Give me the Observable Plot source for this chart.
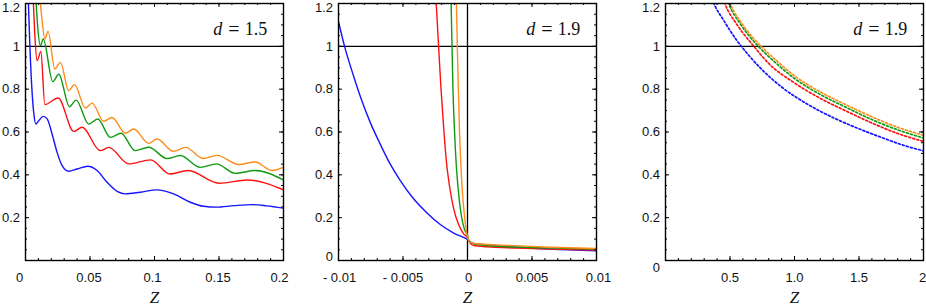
<!DOCTYPE html>
<html><head><meta charset="utf-8">
<script src="https://cdn.jsdelivr.net/npm/d3@7"></script>
<script src="https://cdn.jsdelivr.net/npm/@observablehq/plot@0.6"></script>
<style>
html,body{margin:0;padding:0;background:#fff;}
#wrap{position:relative;width:926px;height:306px;overflow:hidden;background:#fff;}
#wrap svg{position:absolute;top:0;}
</style></head><body><div id="wrap"></div>
<script>
// ---------- data ----------
const seriesColors = ["#1414ff", "#ff1010", "#109a10", "#ff8c1a"]; // blue, red, green, orange
const dValues = ["1.5", "1.9", "1.9"];
const axisTitle = "Z";

// panel 1 (d = 1.5)
const p1Blue = [[0.0021,1.228],[0.0034,1.0],[0.0052,0.777],[0.0065,0.684],[0.008,0.637],[0.0103,0.653],[0.0137,0.673],[0.0168,0.661],[0.0206,0.591],[0.0245,0.505],[0.0284,0.443],[0.0335,0.417],[0.04,0.427],[0.0483,0.44],[0.0555,0.42],[0.0632,0.365],[0.071,0.323],[0.0774,0.311],[0.089,0.319],[0.102,0.33],[0.1148,0.311],[0.1277,0.272],[0.138,0.253],[0.148,0.249],[0.1613,0.256],[0.1755,0.261],[0.187,0.255],[0.2,0.244]];
const p1Red = [[0.0059,1.228],[0.0072,1.057],[0.009,0.933],[0.0119,0.976],[0.015,0.728],[0.0253,0.759],[0.0374,0.603],[0.0439,0.622],[0.058,0.513],[0.0645,0.528],[0.08,0.451],[0.097,0.47],[0.112,0.404],[0.126,0.42],[0.15,0.361],[0.172,0.376],[0.2,0.33]];
const p1Green = [[0.008,1.228],[0.0095,1.088],[0.0116,1.003],[0.0137,1.034],[0.0212,0.835],[0.0258,0.87],[0.0341,0.718],[0.0392,0.749],[0.049,0.637],[0.056,0.661],[0.0658,0.575],[0.074,0.594],[0.085,0.513],[0.0955,0.529],[0.1097,0.476],[0.12,0.49],[0.1355,0.435],[0.148,0.451],[0.1626,0.407],[0.178,0.42],[0.2,0.376]];
const p1Orange = [[0.0111,1.228],[0.0129,1.119],[0.015,1.034],[0.0175,1.07],[0.0227,0.894],[0.0271,0.925],[0.0335,0.793],[0.0379,0.821],[0.0465,0.712],[0.0516,0.735],[0.0606,0.65],[0.0671,0.668],[0.0774,0.594],[0.0839,0.614],[0.0955,0.547],[0.1019,0.567],[0.1148,0.51],[0.1239,0.528],[0.138,0.476],[0.1484,0.491],[0.1652,0.448],[0.1781,0.46],[0.191,0.42],[0.2,0.435]];

// panel 2 (d = 1.9, near zero)
const p2Blue = [[-0.01,1.115],[-0.00953,1.0],[-0.00884,0.863],[-0.00819,0.746],[-0.00754,0.645],[-0.00677,0.544],[-0.006,0.451],[-0.00521,0.373],[-0.00418,0.288],[-0.00314,0.222],[-0.00211,0.168],[-0.00107,0.128],[0,0.098],[0.00035,0.081],[0.0015,0.073],[0.00384,0.062],[0.00643,0.053],[0.01,0.045]];
const p2Red = [[-0.00245,1.228],[-0.00224,1.0],[-0.00206,0.808],[-0.00185,0.622],[-0.00164,0.466],[-0.00138,0.342],[-0.00107,0.241],[-0.00069,0.168],[-0.0003,0.124],[0,0.106],[0.0001,0.09],[0.00048,0.07],[0.0015,0.064],[0.0038,0.058],[0.0064,0.053],[0.01,0.049]];
const p2Green = [[-0.00128,1.228],[-0.0012,1.0],[-0.00113,0.808],[-0.00102,0.622],[-0.00089,0.466],[-0.00071,0.326],[-0.0005,0.218],[-0.00025,0.148],[0,0.117],[0.00012,0.09],[0.00048,0.078],[0.0015,0.07],[0.0038,0.063],[0.0064,0.058],[0.01,0.054]];
const p2Orange = [[-0.00087,1.228],[-0.00079,1.0],[-0.00071,0.808],[-0.00063,0.622],[-0.00053,0.466],[-0.0004,0.326],[-0.00025,0.218],[-0.00009,0.14],[0.00001,0.109],[0.00017,0.085],[0.00074,0.078],[0.00255,0.072],[0.0064,0.062],[0.01,0.056]];

// panel 3 (d = 1.9, dashed)
const p3Blue = [[0.36,1.222],[0.375,1.2],[0.45,1.122],[0.55,1.03],[0.65,0.955],[0.75,0.89],[0.9,0.81],[1.1,0.73],[1.3,0.667],[1.5,0.615],[1.7,0.569],[1.85,0.537],[2.0,0.512]];
const p3Red = [[0.445,1.225],[0.46,1.2],[0.55,1.105],[0.685,1.0],[0.8,0.92],[1.0,0.829],[1.2,0.757],[1.4,0.698],[1.6,0.642],[1.8,0.593],[2.0,0.556]];
const p3Green = [[0.475,1.225],[0.49,1.2],[0.58,1.105],[0.72,1.0],[0.85,0.925],[1.0,0.85],[1.2,0.775],[1.4,0.715],[1.6,0.658],[1.8,0.61],[2.0,0.572]];
const p3Orange = [[0.488,1.225],[0.503,1.2],[0.6,1.1],[0.741,1.0],[0.87,0.928],[1.0,0.862],[1.2,0.787],[1.4,0.727],[1.6,0.671],[1.8,0.622],[2.0,0.585]];

// tick values and labels
const p1XTicks = [0, 0.05, 0.1, 0.15, 0.2];
const p1XLabels = ["0", "0.05", "0.1", "0.15", "0.2"];
const p2XTicks = [-0.01, -0.005, 0, 0.005, 0.01];
const p2XLabels = ["- 0.01", "- 0.005", "0", "0.005", "0.01"];
const p3XTicks = [0.5, 1, 1.5, 2];
const p3XLabels = ["0.5", "1.0", "1.5", "2"];
const yTicksAll = [0, 0.2, 0.4, 0.6, 0.8, 1, 1.2];
const yLabelsAll = ["0", "0.2", "0.4", "0.6", "0.8", "1", "1.2"];

// ---------- drawing ----------
const H = 306, MT = 3, MB = 46;
const sansFont = "'Liberation Sans', Arial, sans-serif";
const serifFont = "'Liberation Serif', 'Times New Roman', serif";
const tickFont = 13;

function panel(cfg) {
  const fw = cfg.width - cfg.marginLeft - cfg.marginRight;
  const fh = H - MT - MB;
  const marks = [];
  marks.push(Plot.ruleY([1], {stroke: "black", strokeWidth: 1.3}));
  if (cfg.vline) marks.push(Plot.ruleX([0], {stroke: "black", strokeWidth: 1.3}));
  cfg.series.forEach((s, i) => {
    marks.push(Plot.line(s, {
      x: d => d[0], y: d => d[1], stroke: seriesColors[i],
      strokeWidth: cfg.dashed ? 1.7 : 1.4, curve: "monotone-x", clip: true,
      strokeDasharray: cfg.dashed ? "2,2.2" : null
    }));
  });
  const xMinor = cfg.xMinor, xMajor = cfg.xMajor, yMinor = d3.range(0, 1.2001, 0.05), yMajor = yTicksAll;
  const tk = {stroke: "black", strokeWidth: 1};
  marks.push(Plot.tickX(xMinor, {x: d => d, insetTop: fh - 2, ...tk}));
  marks.push(Plot.tickX(xMinor, {x: d => d, insetBottom: fh - 2, ...tk}));
  marks.push(Plot.tickX(xMajor, {x: d => d, insetTop: fh - 4, ...tk}));
  marks.push(Plot.tickX(xMajor, {x: d => d, insetBottom: fh - 4, ...tk}));
  marks.push(Plot.tickY(yMinor, {y: d => d, insetRight: fw - 2, ...tk}));
  marks.push(Plot.tickY(yMinor, {y: d => d, insetLeft: fw - 2, ...tk}));
  marks.push(Plot.tickY(yMajor, {y: d => d, insetRight: fw - 4, ...tk}));
  marks.push(Plot.tickY(yMajor, {y: d => d, insetLeft: fw - 4, ...tk}));
  marks.push(Plot.frame({stroke: "black", strokeWidth: 1.4}));
  // x tick labels
  cfg.xTicks.forEach((t, i) => {
    marks.push(Plot.text([t], {x: d => d, text: () => cfg.xLabels[i], frameAnchor: "bottom",
      dy: 17, dx: (cfg.xDx && cfg.xDx[i]) || 0, lineAnchor: "middle", textAnchor: "middle",
      fontSize: tickFont, fontFamily: sansFont, fill: "#111"}));
  });
  // y tick labels
  cfg.yTicks.forEach((t, i) => {
    marks.push(Plot.text([t], {y: d => d, text: () => yLabelsAll[yTicksAll.indexOf(t)], frameAnchor: "left",
      dx: -5.5, dy: (cfg.yDy && cfg.yDy[i]) || 0, lineAnchor: "middle", textAnchor: "end",
      fontSize: tickFont, fontFamily: sansFont, fill: "#111"}));
  });
  // axis title
  marks.push(Plot.text([axisTitle], {text: d => d, frameAnchor: "bottom", dy: 37, lineAnchor: "middle",
    fontSize: 17, fontFamily: serifFont, fontStyle: "italic", fill: "#111"}));
  // d = value annotation
  marks.push(Plot.text([cfg.d], {text: d => d, frameAnchor: "top-right", dx: -16.3, dy: 26,
    lineAnchor: "middle", textAnchor: "end", fontSize: 18, fontFamily: serifFont, fill: "#111"}));
  marks.push(Plot.text(["="], {text: d => d, frameAnchor: "top-right", dx: -49.7, dy: 26,
    lineAnchor: "middle", textAnchor: "middle", fontSize: 20, fontFamily: serifFont, fill: "#111"}));
  marks.push(Plot.text(["d"], {text: d => d, frameAnchor: "top-right", dx: -61.3, dy: 26,
    lineAnchor: "middle", textAnchor: "end", fontSize: 18, fontFamily: serifFont, fontStyle: "italic", fill: "#111"}));

  const svg = Plot.plot({
    width: cfg.width, height: H,
    marginLeft: cfg.marginLeft, marginRight: cfg.marginRight, marginTop: MT, marginBottom: MB,
    x: {domain: cfg.xDomain, axis: null},
    y: {domain: [0, 1.2], axis: null},
    style: {background: "transparent", overflow: "visible"},
    marks
  });
  svg.style.left = cfg.left + "px";
  return svg;
}

const wrap = document.getElementById("wrap");
wrap.append(panel({
  left: 0, width: 300, marginLeft: 25, marginRight: 17, xDomain: [0, 0.2],
  series: [p1Blue, p1Red, p1Green, p1Orange], d: dValues[0],
  xMajor: p1XTicks, xMinor: d3.range(0, 0.2001, 0.01),
  xTicks: p1XTicks, xLabels: p1XLabels, xDx: [-6, -1, -2, -1, -4],
  yTicks: [0.2, 0.4, 0.6, 0.8, 1, 1.2], yDy: [0, 0, 0, 0, 0, 4]
}));
wrap.append(panel({
  left: 300, width: 310, marginLeft: 38, marginRight: 14, xDomain: [-0.01, 0.01],
  series: [p2Blue, p2Red, p2Green, p2Orange], d: dValues[1], vline: true,
  xMajor: p2XTicks, xMinor: d3.range(-0.01, 0.01001, 0.001),
  xTicks: p2XTicks, xLabels: p2XLabels, xDx: [1, 0, 1, 0, 2],
  yTicks: yTicksAll, yDy: [-4, 0, 0, 0, 0, 0, 4]
}));
wrap.append(panel({
  left: 610, width: 316, marginLeft: 55, marginRight: 3, xDomain: [0, 2],
  series: [p3Blue, p3Red, p3Green, p3Orange], d: dValues[2], dashed: true,
  xMajor: [0, ...p3XTicks], xMinor: d3.range(0, 2.0001, 0.1),
  xTicks: p3XTicks, xLabels: p3XLabels, xDx: [0, 0, 0, -1],
  yTicks: yTicksAll, yDy: [7.5, 0, 0, 0, 0, 0, 4]
}));
</script></body></html>
